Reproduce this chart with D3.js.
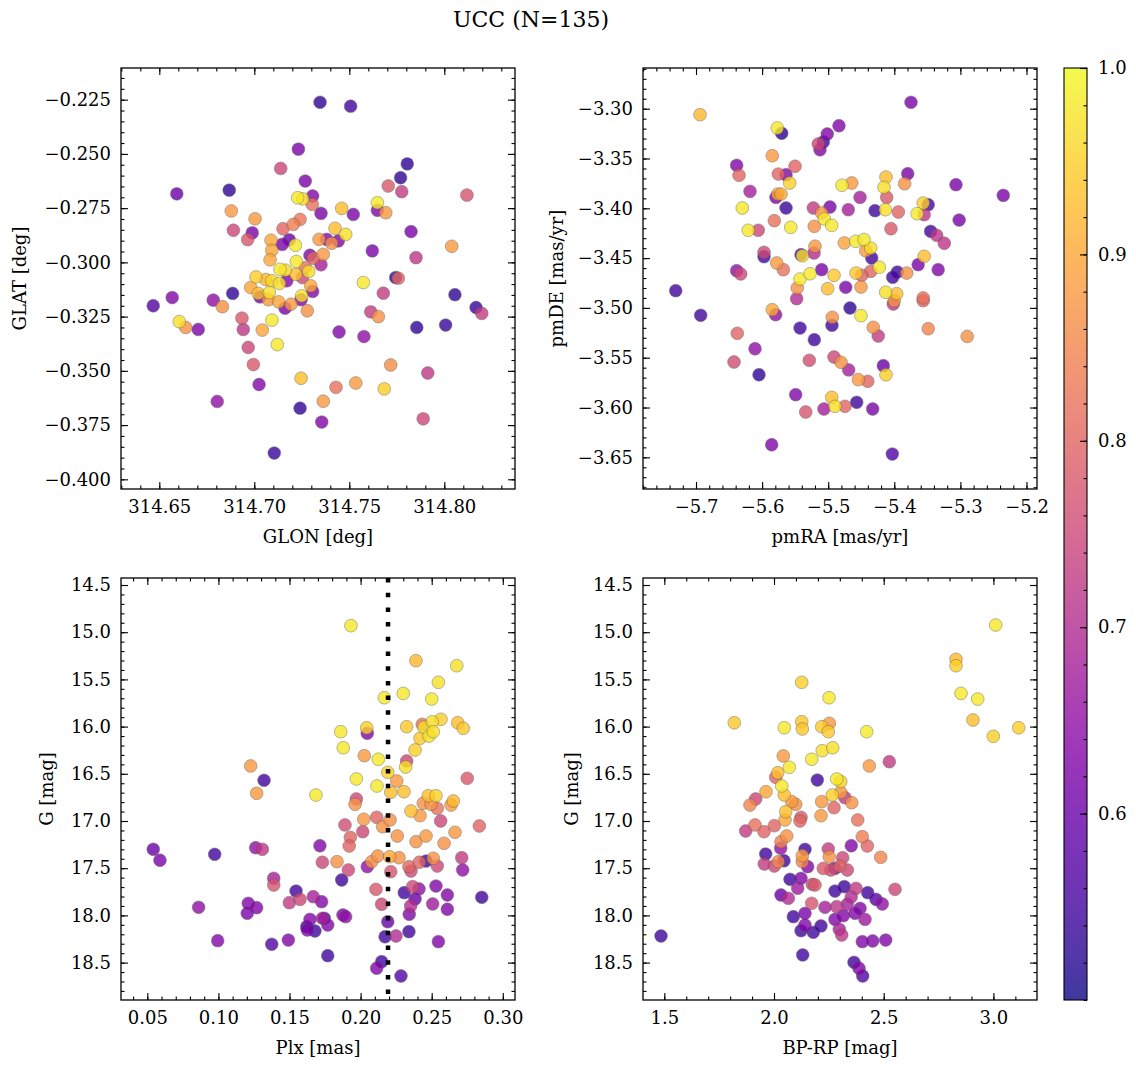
<!DOCTYPE html>
<html><head><meta charset="utf-8">
<script src="https://cdn.jsdelivr.net/npm/d3@7"></script>
<style>body{margin:0;background:#fff} svg{display:block} text{font-family:"DejaVu Serif",serif;fill:#000}</style>
</head><body><svg id="c" width="1136" height="1067"></svg>
<script>
// ---- data: [x, y, membership probability] ----
const posData = [
[314.7346,-0.2262,0.53],[314.7232,-0.2478,0.62],[314.7139,-0.2567,0.75],[314.7268,-0.2625,0.62],[314.6592,-0.2684,0.60],
[314.6868,-0.2667,0.53],[314.7228,-0.2702,0.98],[314.7255,-0.2707,0.97],[314.7307,-0.2694,0.63],[314.7305,-0.2733,0.82],
[314.7351,-0.2774,0.62],[314.6879,-0.2763,0.88],[314.7004,-0.2799,0.88],[314.6890,-0.2852,0.75],[314.6989,-0.2864,0.62],
[314.6965,-0.2895,0.78],[314.7151,-0.2845,0.80],[314.7205,-0.2825,0.84],[314.7241,-0.2802,0.83],[314.7088,-0.2898,0.90],
[314.7147,-0.2917,0.62],[314.7184,-0.2896,0.60],[314.7216,-0.2921,0.98],[314.7092,-0.2944,0.90],[314.7083,-0.2988,0.90],
[314.7293,-0.2967,0.63],[314.7311,-0.2981,0.80],[314.7221,-0.2996,0.98],[314.7135,-0.3032,0.98],[314.7163,-0.3036,0.96],
[314.7219,-0.3055,0.93],[314.7286,-0.3042,0.97],[314.7268,-0.3024,0.82],[314.7253,-0.3070,0.75],[314.7009,-0.3067,0.95],
[314.7060,-0.3079,0.92],[314.7092,-0.3085,0.96],[314.7132,-0.3097,0.97],[314.7171,-0.3085,0.63],[314.6981,-0.3116,0.90],
[314.7021,-0.3143,0.93],[314.7079,-0.3139,0.97],[314.7030,-0.3159,0.62],[314.7074,-0.3172,0.88],[314.7128,-0.3182,0.90],
[314.7193,-0.3193,0.88],[314.7162,-0.3211,0.62],[314.7249,-0.3154,0.97],[314.7246,-0.3172,0.63],[314.7297,-0.3108,0.90],
[314.7307,-0.3134,0.63],[314.7279,-0.3223,0.87],[314.6886,-0.3143,0.53],[314.6468,-0.3200,0.57],[314.6568,-0.3162,0.63],
[314.6784,-0.3174,0.65],[314.6832,-0.3204,0.87],[314.6605,-0.3273,0.97],[314.6639,-0.3300,0.87],[314.6705,-0.3309,0.62],
[314.6935,-0.3257,0.78],[314.6942,-0.3309,0.72],[314.7042,-0.3312,0.90],[314.7093,-0.3266,0.98],[314.6968,-0.3392,0.75],
[314.7121,-0.3379,0.98],[314.6995,-0.3471,0.78],[314.7025,-0.3563,0.63],[314.6805,-0.3641,0.65],[314.7246,-0.3534,0.93],
[314.7241,-0.3672,0.53],[314.7105,-0.3879,0.54],[314.7363,-0.3640,0.88],[314.7355,-0.3736,0.63],[314.7507,-0.2280,0.55],
[314.7805,-0.2546,0.53],[314.7770,-0.2610,0.53],[314.7705,-0.2648,0.78],[314.7776,-0.2674,0.73],[314.8119,-0.2690,0.77],
[314.7648,-0.2725,0.98],[314.7648,-0.2760,0.63],[314.7692,-0.2771,0.88],[314.7460,-0.2751,0.93],[314.7521,-0.2779,0.62],
[314.7425,-0.2843,0.93],[314.7481,-0.2871,0.97],[314.7442,-0.2901,0.63],[314.7407,-0.2912,0.87],[314.7381,-0.2894,0.63],
[314.7341,-0.2894,0.88],[314.7363,-0.2963,0.88],[314.7351,-0.3011,0.68],[314.7825,-0.2858,0.62],[314.7621,-0.2947,0.62],
[314.7851,-0.2978,0.72],[314.8039,-0.2926,0.88],[314.7574,-0.3093,0.98],[314.7744,-0.3070,0.53],[314.7758,-0.3073,0.80],
[314.7679,-0.3142,0.73],[314.8056,-0.3149,0.53],[314.8167,-0.3208,0.54],[314.8197,-0.3235,0.73],[314.7613,-0.3228,0.73],
[314.7653,-0.3250,0.87],[314.7855,-0.3300,0.53],[314.8007,-0.3289,0.54],[314.7446,-0.3321,0.63],[314.7577,-0.3342,0.65],
[314.7718,-0.3473,0.86],[314.7913,-0.3510,0.72],[314.7534,-0.3556,0.88],[314.7430,-0.3576,0.82],[314.7684,-0.3583,0.95],
[314.7889,-0.3721,0.75]
];
const pmData = [
[-5.6939,-3.3060,0.92],[-5.5770,-3.3194,0.98],[-5.5704,-3.3247,0.53],[-5.5846,-3.3472,0.88],[-5.6385,-3.3568,0.63],
[-5.6349,-3.3669,0.80],[-5.5755,-3.3656,0.80],[-5.5638,-3.3663,0.63],[-5.5502,-3.3578,0.80],[-5.5583,-3.3746,0.95],
[-5.6183,-3.3830,0.68],[-5.5790,-3.3890,0.63],[-5.5764,-3.3857,0.90],[-5.5714,-3.3857,0.90],[-5.6300,-3.3997,0.98],
[-5.5638,-3.3997,0.54],[-5.6209,-3.4221,0.98],[-5.6058,-3.4221,0.75],[-5.5815,-3.4124,0.82],[-5.5567,-3.4191,0.98],
[-5.5971,-3.4442,0.75],[-5.5971,-3.4486,0.55],[-5.5779,-3.4549,0.88],[-5.5679,-3.4616,0.82],[-5.6385,-3.4626,0.65],
[-5.6324,-3.4659,0.75],[-5.5411,-3.4466,0.55],[-5.5391,-3.4476,0.97],[-5.5426,-3.4710,0.98],[-5.5275,-3.4657,0.98],
[-5.5468,-3.4800,0.87],[-5.5477,-3.4907,0.70],[-5.7307,-3.4827,0.55],[-5.6929,-3.5074,0.55],[-5.5846,-3.5018,0.90],
[-5.5795,-3.5068,0.65],[-5.5426,-3.5202,0.55],[-5.5210,-3.5319,0.55],[-5.6375,-3.5255,0.80],[-5.6107,-3.5410,0.65],
[-5.6425,-3.5543,0.76],[-5.5286,-3.5526,0.76],[-5.6047,-3.5671,0.53],[-5.5492,-3.5871,0.63],[-5.5340,-3.6045,0.77],
[-5.5855,-3.6374,0.63],[-5.5225,-3.3997,0.73],[-5.5210,-3.4181,0.87],[-5.5200,-3.4381,0.88],[-5.5215,-3.4449,0.70],
[-5.5150,-3.3354,0.75],[-5.3747,-3.2936,0.62],[-5.4837,-3.3171,0.63],[-5.5014,-3.3254,0.63],[-5.5074,-3.3334,0.55],
[-5.5124,-3.3412,0.63],[-5.4791,-3.3769,0.98],[-5.4644,-3.3746,0.88],[-5.4518,-3.3890,0.68],[-5.4973,-3.3987,0.62],
[-5.5099,-3.4047,0.88],[-5.5059,-3.4107,0.98],[-5.4947,-3.4171,0.98],[-5.4696,-3.4014,0.68],[-5.4292,-3.4024,0.55],
[-5.4126,-3.3686,0.93],[-5.4156,-3.3789,0.97],[-5.4115,-3.3890,0.78],[-5.4136,-3.4014,0.97],[-5.3939,-3.4037,0.80],
[-5.3797,-3.3653,0.62],[-5.3843,-3.3753,0.87],[-5.4050,-3.4205,0.78],[-5.3067,-3.3763,0.62],[-5.2351,-3.3870,0.62],
[-5.3563,-3.3947,0.95],[-5.3487,-3.3964,0.55],[-5.3654,-3.4054,0.98],[-5.3548,-3.4064,0.72],[-5.3019,-3.4118,0.62],
[-5.3450,-3.4231,0.55],[-5.3359,-3.4271,0.72],[-5.3244,-3.4351,0.72],[-5.4756,-3.4348,0.90],[-5.4584,-3.4331,0.98],
[-5.4458,-3.4314,0.98],[-5.4433,-3.4426,0.88],[-5.4357,-3.4399,0.97],[-5.4342,-3.4499,0.55],[-5.4227,-3.4592,0.98],
[-5.4357,-3.4633,0.80],[-5.4493,-3.4673,0.80],[-5.4579,-3.4650,0.94],[-5.5099,-3.4616,0.62],[-5.4912,-3.4673,0.94],
[-5.5008,-3.4807,0.93],[-5.4735,-3.4793,0.62],[-5.4504,-3.4790,0.88],[-5.3954,-3.4640,0.55],[-5.4024,-3.4693,0.55],
[-5.3812,-3.4650,0.87],[-5.3548,-3.4482,0.93],[-5.3639,-3.4566,0.62],[-5.3336,-3.4616,0.63],[-5.4130,-3.4843,0.97],
[-5.3964,-3.4857,0.93],[-5.4015,-3.4961,0.72],[-5.4000,-3.4928,0.87],[-5.3563,-3.4900,0.82],[-5.3563,-3.4927,0.80],
[-5.4670,-3.5001,0.53],[-5.4504,-3.5078,0.98],[-5.4938,-3.5094,0.87],[-5.4943,-3.5175,0.55],[-5.4318,-3.5195,0.87],
[-5.4243,-3.5282,0.73],[-5.3487,-3.5209,0.85],[-5.2897,-3.5286,0.87],[-5.4912,-3.5493,0.75],[-5.4806,-3.5546,0.87],
[-5.4690,-3.5623,0.68],[-5.4544,-3.5720,0.88],[-5.4402,-3.5737,0.80],[-5.4166,-3.5580,0.60],[-5.4126,-3.5671,0.95],
[-5.4947,-3.5898,0.93],[-5.4897,-3.5988,0.97],[-5.4746,-3.5988,0.80],[-5.5064,-3.6015,0.68],[-5.4569,-3.5948,0.55],
[-5.4327,-3.6015,0.62],[-5.4030,-3.6467,0.57]
];
const plxData = [
[0.1227,16.417,0.88],[0.1321,16.569,0.55],[0.1269,16.707,0.88],[0.1686,16.725,0.98],[0.0542,17.300,0.60],
[0.0589,17.416,0.62],[0.0974,17.353,0.55],[0.1262,17.283,0.65],[0.1309,17.300,0.72],[0.1714,17.262,0.63],
[0.1731,17.437,0.75],[0.1389,17.607,0.68],[0.1389,17.678,0.77],[0.1546,17.742,0.55],[0.1499,17.865,0.73],
[0.1574,17.830,0.75],[0.1667,17.802,0.68],[0.0861,17.914,0.65],[0.1210,17.872,0.63],[0.1269,17.918,0.63],
[0.1203,17.978,0.62],[0.0995,18.268,0.63],[0.1375,18.306,0.57],[0.1492,18.261,0.63],[0.1644,18.042,0.63],
[0.1621,18.120,0.55],[0.1625,18.155,0.62],[0.1679,18.165,0.55],[0.1726,17.855,0.63],[0.1731,18.031,0.68],
[0.1932,14.931,0.98],[0.2389,15.302,0.92],[0.2676,15.355,0.97],[0.2547,15.531,0.97],[0.2300,15.648,0.98],
[0.2500,15.708,0.98],[0.2167,15.694,0.98],[0.2324,16.001,0.94],[0.2434,15.976,0.82],[0.2446,16.007,0.97],
[0.2504,15.948,0.97],[0.2565,15.923,0.95],[0.2683,15.959,0.93],[0.2722,16.018,0.94],[0.2481,16.100,0.97],
[0.2418,16.124,0.94],[0.2511,16.054,0.97],[0.2043,16.012,0.95],[0.2047,16.071,0.63],[0.1860,16.054,0.98],
[0.1878,16.224,0.98],[0.2026,16.308,0.88],[0.2124,16.346,0.98],[0.2383,16.248,0.95],[0.2324,16.364,0.75],
[0.2317,16.428,0.97],[0.2191,16.484,0.95],[0.1970,16.555,0.98],[0.2115,16.629,0.98],[0.2254,16.576,0.88],
[0.2212,16.696,0.93],[0.2305,16.690,0.93],[0.2750,16.548,0.78],[0.1970,16.767,0.75],[0.1961,16.823,0.87],
[0.2476,16.732,0.93],[0.2530,16.732,0.95],[0.2441,16.812,0.87],[0.2495,16.823,0.87],[0.2539,16.866,0.82],
[0.2636,16.831,0.88],[0.2652,16.788,0.92],[0.2354,16.894,0.93],[0.2418,16.944,0.88],[0.2022,16.982,0.88],
[0.2113,16.961,0.80],[0.2155,17.060,0.87],[0.2207,16.989,0.87],[0.2563,17.000,0.75],[0.2835,17.053,0.80],
[0.1890,17.042,0.76],[0.1928,17.173,0.80],[0.1920,17.265,0.80],[0.2015,17.113,0.75],[0.2258,17.159,0.87],
[0.2390,17.219,0.87],[0.2460,17.159,0.88],[0.2587,17.236,0.87],[0.2664,17.120,0.88],[0.1834,17.431,0.87],
[0.1914,17.519,0.75],[0.2047,17.484,0.65],[0.2078,17.431,0.87],[0.2120,17.371,0.87],[0.2205,17.378,0.90],
[0.2212,17.537,0.77],[0.2270,17.389,0.87],[0.2340,17.484,0.80],[0.2354,17.530,0.75],[0.2413,17.437,0.80],
[0.2460,17.424,0.55],[0.2511,17.395,0.87],[0.2539,17.477,0.75],[0.2711,17.389,0.73],[0.2718,17.519,0.65],
[0.1867,17.625,0.55],[0.2108,17.724,0.78],[0.2148,17.882,0.75],[0.2307,17.759,0.55],[0.2366,17.695,0.75],
[0.2383,17.826,0.60],[0.2411,17.720,0.65],[0.2352,17.900,0.70],[0.2342,17.988,0.63],[0.2530,17.689,0.63],
[0.2507,17.879,0.67],[0.2610,17.784,0.63],[0.2610,17.935,0.63],[0.2852,17.808,0.55],[0.1876,17.996,0.63],
[0.1895,18.014,0.65],[0.1745,18.031,0.57],[0.1769,18.102,0.63],[0.2191,18.067,0.60],[0.2172,18.226,0.55],
[0.2249,18.218,0.70],[0.2340,18.172,0.55],[0.2547,18.278,0.63],[0.1769,18.427,0.55],[0.2148,18.490,0.55],
[0.2113,18.560,0.63],[0.2284,18.642,0.57]
];
const cmdData = [
[2.1263,15.531,0.95],[1.8190,15.959,0.94],[2.0469,16.012,0.98],[2.1263,15.948,0.94],[2.1290,16.025,0.94],
[2.0424,16.311,0.88],[2.0697,16.431,0.98],[2.1718,16.346,0.98],[2.1974,16.566,0.55],[2.0169,16.489,0.93],
[2.0078,16.537,0.80],[2.0351,16.629,0.98],[2.0469,16.725,0.93],[2.0806,16.795,0.88],[1.9635,16.690,0.90],
[1.9166,16.767,0.75],[1.8906,16.831,0.85],[2.0988,16.823,0.87],[2.0533,16.901,0.93],[2.0501,16.989,0.90],
[2.1231,16.961,0.78],[2.1185,17.000,0.80],[1.8710,17.106,0.73],[1.9134,17.042,0.82],[1.9544,17.113,0.80],
[2.0014,17.050,0.80],[2.0579,17.159,0.87],[2.0319,17.219,0.84],[2.0305,17.289,0.65],[2.1413,17.300,0.55],
[1.9622,17.350,0.55],[2.1290,17.368,0.88],[2.1290,17.431,0.85],[2.0456,17.421,0.55],[2.0196,17.431,0.85],
[1.9558,17.456,0.73],[2.0014,17.477,0.75],[2.1536,17.484,0.63],[2.0729,17.618,0.55],[2.1231,17.607,0.63],
[2.1080,17.713,0.67],[2.1746,17.671,0.75],[2.0319,17.784,0.60],[2.0652,17.819,0.70],[2.1718,17.872,0.77],
[2.0880,18.014,0.55],[2.1413,17.978,0.62],[2.1231,18.162,0.55],[2.1413,18.102,0.63],[2.1791,18.179,0.55],
[2.1308,18.419,0.55],[1.4850,18.218,0.55],[3.0105,14.924,0.98],[2.8295,15.287,0.92],[2.8295,15.355,0.95],
[2.8523,15.648,0.98],[2.9284,15.708,0.98],[2.9070,15.930,0.93],[2.9995,16.103,0.95],[3.1153,16.012,0.95],
[2.2507,15.694,0.98],[2.2174,16.001,0.94],[2.2520,15.965,0.88],[2.2475,16.054,0.94],[2.2201,16.255,0.97],
[2.2675,16.224,0.97],[2.4225,16.054,0.98],[2.4344,16.417,0.88],[2.5255,16.372,0.73],[2.2858,16.555,0.98],
[2.3040,16.583,0.95],[2.2657,16.725,0.95],[2.3040,16.696,0.88],[2.3236,16.753,0.73],[2.3542,16.806,0.87],
[2.2174,16.795,0.88],[2.2735,16.859,0.80],[2.2142,16.944,0.88],[2.3815,16.989,0.82],[2.4025,17.166,0.84],
[2.4253,17.265,0.80],[2.4863,17.385,0.85],[2.3523,17.262,0.63],[2.2475,17.296,0.73],[2.2520,17.378,0.87],
[2.3131,17.389,0.75],[2.2247,17.502,0.78],[2.2584,17.519,0.76],[2.3008,17.477,0.80],[2.3341,17.519,0.75],
[2.2780,17.502,0.63],[2.1869,17.678,0.78],[2.3204,17.695,0.55],[2.2780,17.742,0.55],[2.3737,17.713,0.73],
[2.3523,17.802,0.70],[2.4271,17.759,0.55],[2.4649,17.830,0.58],[2.4936,17.879,0.65],[2.5515,17.724,0.75],
[2.3341,17.882,0.68],[2.2325,17.914,0.68],[2.2858,17.907,0.72],[2.3921,17.925,0.63],[2.3693,17.978,0.63],
[2.3159,18.003,0.63],[2.2780,18.042,0.63],[2.4148,18.042,0.67],[2.2142,18.112,0.55],[2.2976,18.147,0.68],
[2.3086,18.208,0.72],[2.4025,18.278,0.63],[2.4499,18.271,0.63],[2.5091,18.261,0.63],[2.3646,18.497,0.55],
[2.3874,18.560,0.63],[2.4043,18.642,0.57]
];
const plxLine = 0.2193;
const probRange = [0.5, 1.0];

// tick values
const glonTicks = [314.65, 314.70, 314.75, 314.80];
const glatTicks = [-0.225, -0.250, -0.275, -0.300, -0.325, -0.350, -0.375, -0.400];
const pmraTicks = [-5.7, -5.6, -5.5, -5.4, -5.3, -5.2];
const pmdeTicks = [-3.30, -3.35, -3.40, -3.45, -3.50, -3.55, -3.60, -3.65];
const plxTicks = [0.05, 0.10, 0.15, 0.20, 0.25, 0.30];
const gTicks = [14.5, 15.0, 15.5, 16.0, 16.5, 17.0, 17.5, 18.0, 18.5];
const bprpTicks = [1.5, 2.0, 2.5, 3.0];
const cbTicks = [0.6, 0.7, 0.8, 0.9, 1.0];

const svg = d3.select('#c');
const color = p => d3.interpolatePlasma((p - probRange[0]) / (probRange[1] - probRange[0]));
const fmtMinus = f => v => d3.format(f)(v).replace('-', '\u2212');
const FS = 18;

function minorTicks(domain, step) {
  const lo = Math.min(...domain), hi = Math.max(...domain);
  const out = [];
  for (let k = Math.ceil(lo / step - 1e-6); k * step <= hi + 1e-9; k++) out.push(+(k * step).toFixed(6));
  return out;
}

function panel(cfg, idx) {
  const {left, top, w, h} = cfg;
  const g = svg.append('g').attr('transform', `translate(${left},${top})`);
  const x = d3.scaleLinear().domain(cfg.xd).range([0, w]);
  const y = d3.scaleLinear().domain(cfg.yd).range([h, 0]);
  svg.append('clipPath').attr('id', 'clip' + idx).append('rect').attr('width', w).attr('height', h);
  const pts = g.append('g').attr('clip-path', `url(#clip${idx})`);
  const data = cfg.data.slice().sort((a, b) => a[2] - b[2]);
  pts.selectAll('circle').data(data).join('circle')
    .attr('cx', d => x(d[0])).attr('cy', d => y(d[1])).attr('r', 6.4)
    .attr('fill', d => color(d[2])).attr('stroke', '#555').attr('stroke-width', 0.5)
    .attr('opacity', 0.8);
  if (cfg.vline !== undefined) {
    pts.append('line').attr('x1', x(cfg.vline)).attr('x2', x(cfg.vline)).attr('y1', 0).attr('y2', h)
      .attr('stroke', '#000').attr('stroke-width', 4.5).attr('stroke-dasharray', '4.5,10.2');
  }
  const xMin = minorTicks(cfg.xd, cfg.xm), yMin = minorTicks(cfg.yd, cfg.ym);
  const style = sel => { sel.select('.domain').remove(); sel.selectAll('line').attr('stroke', '#000').attr('stroke-width', 1.1);
    sel.selectAll('text').attr('font-size', FS).attr('font-family', '"DejaVu Serif", serif'); };
  g.append('g').attr('transform', `translate(0,${h})`).call(d3.axisBottom(x).tickValues(xMin).tickSize(-3.5).tickFormat('')).call(style);
  g.append('g').attr('transform', `translate(0,${h})`).call(d3.axisBottom(x).tickValues(cfg.xt).tickSize(-7).tickPadding(11).tickFormat(cfg.xf)).call(style);
  g.append('g').call(d3.axisTop(x).tickValues(xMin).tickSize(-3.5).tickFormat('')).call(style);
  g.append('g').call(d3.axisTop(x).tickValues(cfg.xt).tickSize(-7).tickFormat('')).call(style);
  g.append('g').call(d3.axisLeft(y).tickValues(yMin).tickSize(-3.5).tickFormat('')).call(style);
  g.append('g').call(d3.axisLeft(y).tickValues(cfg.yt).tickSize(-7).tickPadding(10).tickFormat(cfg.yf)).call(style);
  g.append('g').attr('transform', `translate(${w},0)`).call(d3.axisRight(y).tickValues(yMin).tickSize(-3.5).tickFormat('')).call(style);
  g.append('g').attr('transform', `translate(${w},0)`).call(d3.axisRight(y).tickValues(cfg.yt).tickSize(-7).tickFormat('')).call(style);
  g.append('rect').attr('width', w).attr('height', h).attr('fill', 'none').attr('stroke', '#000').attr('stroke-width', 1.3);
  g.append('text').attr('x', w / 2).attr('y', h + 54).attr('text-anchor', 'middle').attr('font-size', FS).text(cfg.xlabel);
  g.append('text').attr('transform', `translate(${cfg.ylx - left},${h / 2}) rotate(-90)`)
    .attr('text-anchor', 'middle').attr('dominant-baseline', 'central').attr('font-size', FS).text(cfg.ylabel);
}

const panels = [
  {left:121, top:68, w:394, h:421, xd:[314.62984, 314.83721], yd:[-0.40446, -0.21040], data:posData,
   xt:glonTicks, yt:glatTicks, xm:0.01, ym:0.005, xf:fmtMinus('.2f'), yf:fmtMinus('.3f'),
   xlabel:'GLON [deg]', ylabel:'GLAT [deg]', ylx:19},
  {left:643, top:68, w:394, h:421, xd:[-5.7802, -5.1841], yd:[-3.6818, -3.25914], data:pmData,
   xt:pmraTicks, yt:pmdeTicks, xm:0.02, ym:0.01, xf:fmtMinus('.1f'), yf:fmtMinus('.2f'),
   xlabel:'pmRA [mas/yr]', ylabel:'pmDE [mas/yr]', ylx:556},
  {left:121, top:578, w:394, h:422, xd:[0.03150, 0.30858], yd:[18.8962, 14.4258], data:plxData, vline:plxLine,
   xt:plxTicks, yt:gTicks, xm:0.01, ym:0.1, xf:fmtMinus('.2f'), yf:fmtMinus('.1f'),
   xlabel:'Plx [mas]', ylabel:'G [mag]', ylx:46},
  {left:643, top:578, w:394, h:422, xd:[1.4029, 3.1987], yd:[18.8962, 14.4258], data:cmdData,
   xt:bprpTicks, yt:gTicks, xm:0.1, ym:0.1, xf:fmtMinus('.1f'), yf:fmtMinus('.1f'),
   xlabel:'BP-RP [mag]', ylabel:'G [mag]', ylx:571}
];
panels.forEach(panel);

// colorbar
const cb = {left:1064, top:68, w:23, h:932};
const defs = svg.append('defs');
const grad = defs.append('linearGradient').attr('id', 'cbgrad').attr('x1', 0).attr('y1', 1).attr('x2', 0).attr('y2', 0);
d3.range(0, 1.0001, 0.05).forEach(t => grad.append('stop').attr('offset', t).attr('stop-color', d3.interpolatePlasma(t)).attr('stop-opacity', 0.8));
const cg = svg.append('g').attr('transform', `translate(${cb.left},${cb.top})`);
cg.append('rect').attr('width', cb.w).attr('height', cb.h).attr('fill', 'url(#cbgrad)');
const cy = d3.scaleLinear().domain(probRange).range([cb.h, 0]);
const cbStyle = sel => { sel.select('.domain').remove(); sel.selectAll('line').attr('stroke', '#000').attr('stroke-width', 1.1);
  sel.selectAll('text').attr('font-size', FS).attr('font-family', '"DejaVu Serif", serif'); };
cg.append('g').attr('transform', `translate(${cb.w},0)`).call(d3.axisRight(cy).tickValues(minorTicks(probRange, 0.02)).tickSize(-3.5).tickFormat('')).call(cbStyle);
cg.append('g').attr('transform', `translate(${cb.w},0)`).call(d3.axisRight(cy).tickValues(cbTicks).tickSize(-7).tickPadding(11).tickFormat(d3.format('.1f'))).call(cbStyle);
cg.append('rect').attr('width', cb.w).attr('height', cb.h).attr('fill', 'none').attr('stroke', '#000').attr('stroke-width', 1.1);

svg.append('text').attr('x', 531).attr('y', 27).attr('text-anchor', 'middle').attr('font-size', 22).text('UCC (N=135)');
</script></body></html>
